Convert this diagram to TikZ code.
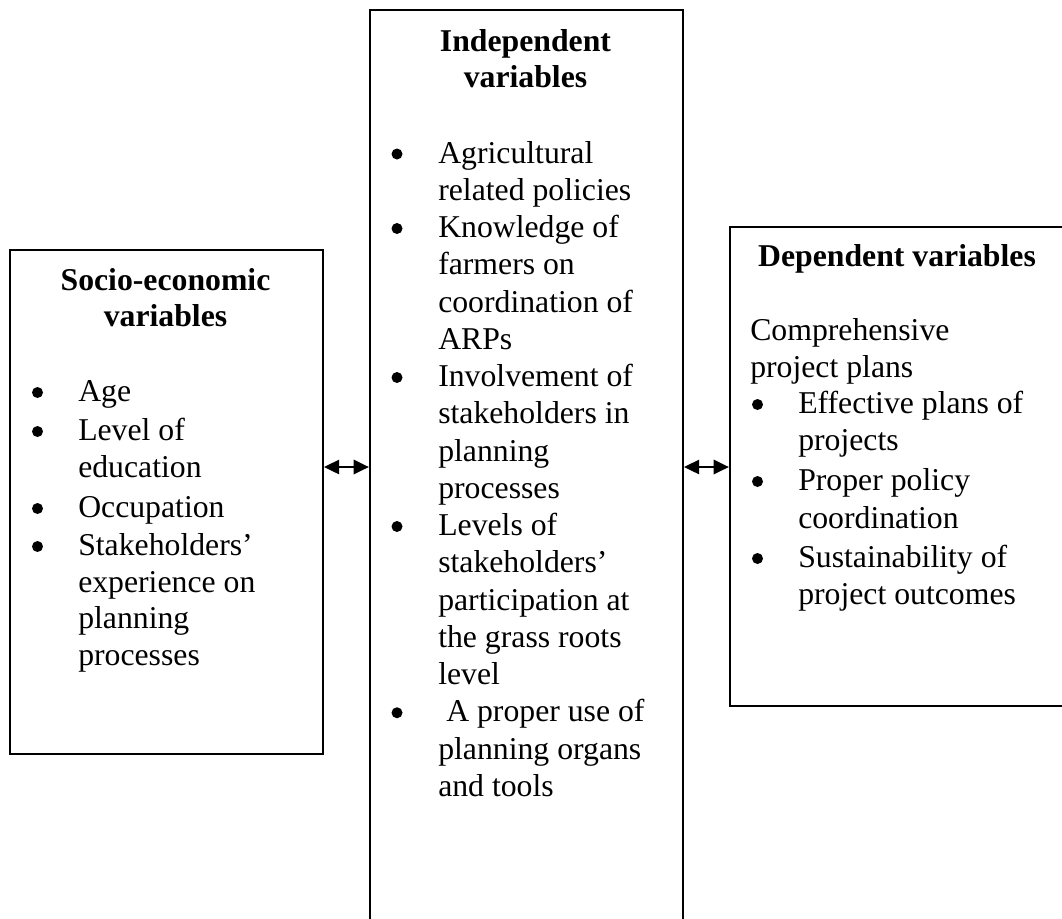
\documentclass[tikz,border=0pt]{standalone}
\usepackage{fontspec}
\setmainfont{Liberation Serif}
\usetikzlibrary{arrows.meta}
\tikzset{
  box/.style={draw, line width=1.4pt, rectangle, inner sep=0pt, anchor=north west},
  txt/.style={anchor=base west, inner sep=0pt, font=\fontsize{23.8pt}{28.4pt}\selectfont},
  ttl/.style={anchor=base, inner sep=0pt, font=\fontsize{23.8pt}{28.4pt}\selectfont\bfseries},
  dot/.style={fill=black},
  link/.style={line width=2.2pt, {Triangle[length=11.5pt,width=10.5pt]}-{Triangle[length=11.5pt,width=10.5pt]}},
}
\begin{document}
\begin{tikzpicture}[x=0.75pt,y=-0.75pt]
\useasboundingbox (0,0) rectangle (1062,918);
\clip (0,0) rectangle (1062,918);
% boxes
\node[box, minimum width=234.75pt, minimum height=378pt] (L) at (9,249) {};
\node[box, minimum width=234.75pt, minimum height=700pt] (M) at (369,9) {};
\node[box, minimum width=252pt, minimum height=359.25pt] (R) at (729,226) {};
% left box
\node[ttl] (lt1) at (165.5,290) {Socio-economic};
\node[ttl] (lt2) at (165.5,326) {variables};
\foreach \t/\yy [count=\k] in {Age/401, Level of/440, education/477, Occupation/517, Stakeholders’/555, experience on/592, planning/628, processes/665}
  \node[txt] (l\k) at (78,\yy) {\t};
\foreach \yy in {401,440,517,555}
  \fill[dot] (37.5,\yy-8.5) circle (5.5);
% middle box
\node[ttl] (mt1) at (525.5,51.5) {Independent};
\node[ttl] (mt2) at (525.5,87) {variables};
\foreach \t [count=\k from 0] in {Agricultural, related policies, Knowledge of, farmers on, coordination of, ARPs, Involvement of, stakeholders in, planning, processes, Levels of, stakeholders’, participation at, the grass roots, level}
  \node[txt] (m\k) at (438,163+37.25*\k) {\t};
\node[txt] (m15) at (446,163+37.25*15) {A proper use of};
\node[txt] (m16) at (438,163+37.25*16) {planning organs};
\node[txt] (m17) at (438,163+37.25*17) {and tools};
\foreach \k in {0,2,6,10,15}
  \fill[dot] (397,163+37.25*\k-9) circle (5.5);
% right box
\node[ttl] (rt1) at (897,266) {Dependent variables};
\node[txt] (r1) at (750,340) {Comprehensive};
\node[txt] (r2) at (750,377) {project plans};
\foreach \t/\yy [count=\k from 3] in {Effective plans of/413, projects/450, Proper policy/490, coordination/528, Sustainability of/567, project outcomes/604}
  \node[txt] (r\k) at (798,\yy) {\t};
\foreach \yy in {413,490,567}
  \fill[dot] (757.5,\yy-8.5) circle (5.5);
% connectors
\coordinate (la) at (L.east |- 0,467);
\coordinate (ma) at (M.west |- 0,467);
\coordinate (mb) at (M.east |- 0,467);
\coordinate (ra) at (R.west |- 0,467);
\draw[link] (la) -- (ma);
\draw[link] (mb) -- (ra);
\end{tikzpicture}
\end{document}
